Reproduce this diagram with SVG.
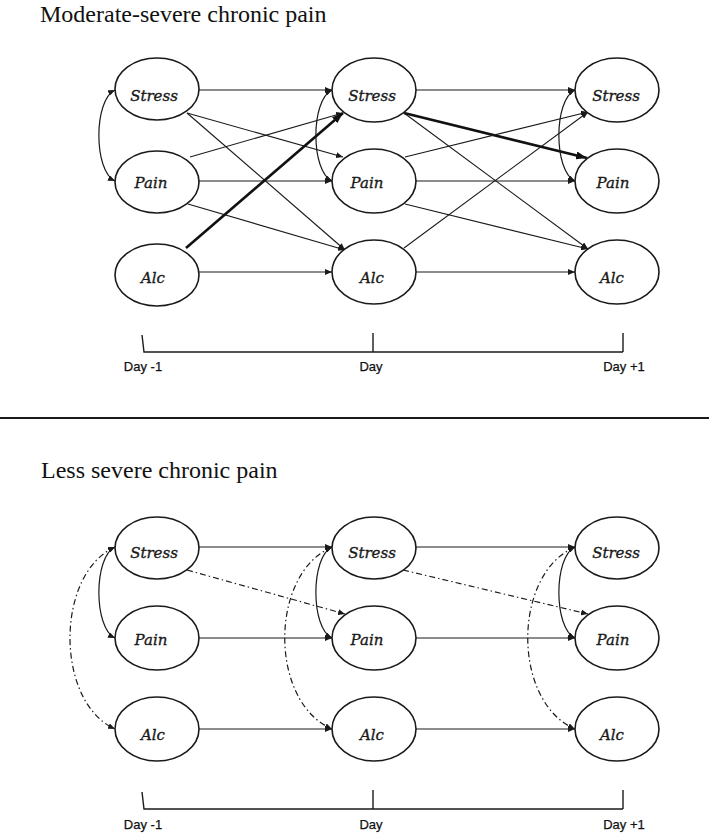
<svg xmlns="http://www.w3.org/2000/svg" width="709" height="833" viewBox="0 0 709 833">
<style>
.bg{fill:#ffffff}
.node ellipse{fill:#ffffff;stroke:#1a1a1a;stroke-width:1.6}
.node text{font-family:"DejaVu Serif","Liberation Serif",serif;font-style:italic;font-size:15px;fill:#1a1a1a;stroke:#1a1a1a;stroke-width:0.35;text-anchor:middle}
.title{font-family:"Liberation Serif","Times New Roman",serif;font-size:24px;fill:#111}
.axis{fill:none;stroke:#1a1a1a;stroke-width:1.4}
.axlabel{font-family:"Liberation Sans",Arial,sans-serif;font-size:13px;fill:#111;stroke:#111;stroke-width:0.25;text-anchor:middle}
.sep{stroke:#1a1a1a;stroke-width:2}
.c{fill:none;stroke:#1a1a1a;stroke-width:1.1;marker-end:url(#ah)}
.thick{fill:none;stroke:#111;stroke-width:2.6;marker-end:url(#ahb)}
.arc{fill:none;stroke:#1a1a1a;stroke-width:1.2;marker-start:url(#ah);marker-end:url(#ah)}
.dd{stroke-dasharray:6 3 1.5 3}
</style>
<defs>
<marker id="ah" viewBox="0 0 7 6" refX="7" refY="3" markerWidth="7" markerHeight="6" markerUnits="userSpaceOnUse" orient="auto-start-reverse">
<path d="M0,0 L7,3 L0,6 z" fill="#1a1a1a"/>
</marker>
<marker id="ahb" viewBox="0 0 11 8" refX="11" refY="4" markerWidth="11" markerHeight="8" markerUnits="userSpaceOnUse" orient="auto">
<path d="M0,0 L11,4 L0,8 z" fill="#111"/>
</marker>
</defs>
<rect class="bg" x="0" y="0" width="709" height="833"/>

<text class="title" x="40" y="22">Moderate-severe chronic pain</text>
<line class="sep" x1="0" y1="418" x2="709" y2="418"/>
<text class="title" x="41" y="478">Less severe chronic pain</text>

<!-- connectors -->
<g id="connectors">
  <!-- top: day-1 to day -->
  <line class="c" x1="199" y1="90" x2="332" y2="90"/>
  <line class="c" x1="199" y1="181" x2="332" y2="181"/>
  <line class="c" x1="199" y1="272" x2="332" y2="272"/>
  <line class="c" x1="187" y1="113" x2="343" y2="157"/>
  <line class="c" x1="187" y1="113" x2="345" y2="250"/>
  <line class="c" x1="190" y1="157" x2="343" y2="113"/>
  <line class="c" x1="188" y1="204" x2="345" y2="250"/>
  <line class="thick" x1="186" y1="248" x2="343" y2="113"/>
  <!-- top: day to day+1 -->
  <line class="c" x1="416" y1="90" x2="575" y2="90"/>
  <line class="c" x1="416" y1="181" x2="575" y2="181"/>
  <line class="c" x1="416" y1="272" x2="575" y2="272"/>
  <line class="thick" x1="404" y1="113" x2="587" y2="158"/>
  <line class="c" x1="404" y1="113" x2="588" y2="249"/>
  <line class="c" x1="405" y1="157" x2="588" y2="112"/>
  <line class="c" x1="405" y1="204" x2="588" y2="249"/>
  <line class="c" x1="404" y1="248" x2="588" y2="112"/>
  <!-- top correlation arcs -->
  <path class="arc" d="M115,90 C93.5,100 93.5,171 115,181"/>
  <path class="arc" d="M332,90 C310.5,100 310.5,171 332,181"/>
  <path class="arc" d="M575,90 C553.5,100 553.5,171 575,181"/>

  <!-- bottom: horizontals -->
  <line class="c" x1="199" y1="547" x2="332" y2="547"/>
  <line class="c" x1="199" y1="638" x2="332" y2="638"/>
  <line class="c" x1="199" y1="729" x2="332" y2="729"/>
  <line class="c" x1="416" y1="547" x2="575" y2="547"/>
  <line class="c" x1="416" y1="638" x2="575" y2="638"/>
  <line class="c" x1="416" y1="729" x2="575" y2="729"/>
  <!-- bottom dash-dot cross-lagged -->
  <line class="c dd" x1="187" y1="570" x2="345" y2="614"/>
  <line class="c dd" x1="403" y1="570" x2="588" y2="614"/>
  <!-- bottom solid arcs -->
  <path class="arc" d="M115,547 C93.5,557 93.5,628 115,638"/>
  <path class="arc" d="M332,547 C310.5,557 310.5,628 332,638"/>
  <path class="arc" d="M575,547 C553.5,557 553.5,628 575,638"/>
  <!-- bottom dash-dot arcs -->
  <path class="arc dd" d="M115,547 C55,574 55,702 115,729"/>
  <path class="arc dd" d="M332,547 C269,574 269,702 332,729"/>
  <path class="arc dd" d="M575,547 C512,574 512,702 575,729"/>
</g>

<!-- top nodes -->
<g id="top-stress-dm1" class="node"><ellipse cx="157" cy="89" rx="42" ry="31"/><text x="154" y="101">Stress</text></g>
<g id="top-pain-dm1" class="node"><ellipse cx="157" cy="182" rx="42" ry="31"/><text x="151" y="188">Pain</text></g>
<g id="top-alc-dm1" class="node"><ellipse cx="157" cy="275" rx="42" ry="31"/><text x="153" y="283">Alc</text></g>
<g id="top-stress-d" class="node"><ellipse cx="374" cy="90" rx="42" ry="32"/><text x="372" y="101">Stress</text></g>
<g id="top-pain-d" class="node"><ellipse cx="374" cy="181" rx="42" ry="32"/><text x="367" y="188">Pain</text></g>
<g id="top-alc-d" class="node"><ellipse cx="374" cy="272" rx="42" ry="32"/><text x="372" y="283">Alc</text></g>
<g id="top-stress-dp1" class="node"><ellipse cx="617" cy="90" rx="42" ry="32"/><text x="616" y="101">Stress</text></g>
<g id="top-pain-dp1" class="node"><ellipse cx="617" cy="181" rx="42" ry="32"/><text x="613" y="188">Pain</text></g>
<g id="top-alc-dp1" class="node"><ellipse cx="617" cy="272" rx="42" ry="32"/><text x="612" y="283">Alc</text></g>

<!-- bottom nodes -->
<g id="bot-stress-dm1" class="node"><ellipse cx="157" cy="548" rx="42" ry="31"/><text x="154" y="558">Stress</text></g>
<g id="bot-pain-dm1" class="node"><ellipse cx="157" cy="638" rx="42" ry="32"/><text x="151" y="645">Pain</text></g>
<g id="bot-alc-dm1" class="node"><ellipse cx="157" cy="729" rx="42" ry="32"/><text x="153" y="740">Alc</text></g>
<g id="bot-stress-d" class="node"><ellipse cx="374" cy="548" rx="42" ry="31"/><text x="372" y="558">Stress</text></g>
<g id="bot-pain-d" class="node"><ellipse cx="374" cy="638" rx="42" ry="32"/><text x="367" y="645">Pain</text></g>
<g id="bot-alc-d" class="node"><ellipse cx="374" cy="729" rx="42" ry="32"/><text x="372" y="740">Alc</text></g>
<g id="bot-stress-dp1" class="node"><ellipse cx="617" cy="548" rx="42" ry="31"/><text x="616" y="558">Stress</text></g>
<g id="bot-pain-dp1" class="node"><ellipse cx="617" cy="638" rx="42" ry="32"/><text x="613" y="645">Pain</text></g>
<g id="bot-alc-dp1" class="node"><ellipse cx="617" cy="729" rx="42" ry="32"/><text x="612" y="740">Alc</text></g>

<!-- timelines -->
<g id="timeline-top">
  <polyline class="axis" points="142,335 144,352 623,352"/>
  <line class="axis" x1="373" y1="333" x2="373" y2="352"/>
  <line class="axis" x1="623" y1="333" x2="623" y2="352"/>
  <text class="axlabel" x="143" y="371">Day -1</text>
  <text class="axlabel" x="371" y="371">Day</text>
  <text class="axlabel" x="624" y="371">Day +1</text>
</g>
<g id="timeline-bottom">
  <polyline class="axis" points="142,792 144,809 623,809"/>
  <line class="axis" x1="373" y1="790" x2="373" y2="809"/>
  <line class="axis" x1="623" y1="790" x2="623" y2="809"/>
  <text class="axlabel" x="143" y="829">Day -1</text>
  <text class="axlabel" x="371" y="829">Day</text>
  <text class="axlabel" x="624" y="829">Day +1</text>
</g>
</svg>
